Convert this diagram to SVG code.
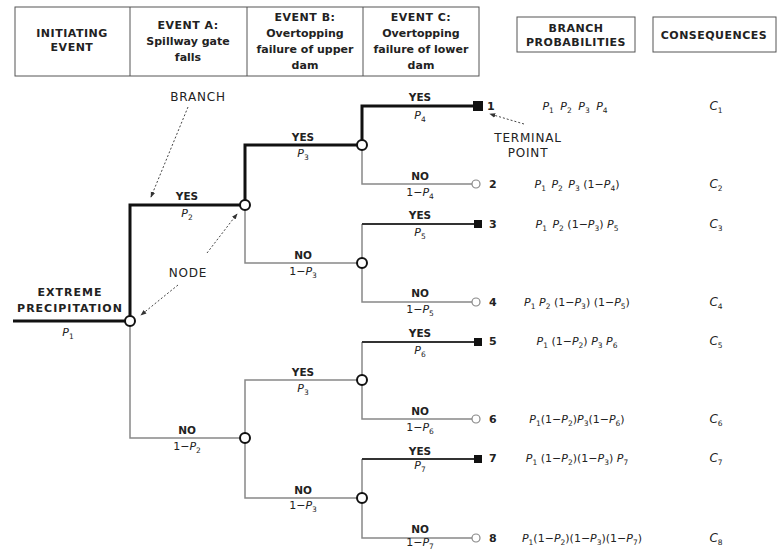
<svg xmlns="http://www.w3.org/2000/svg" width="777" height="560" viewBox="0 0 777 560">
<style>
text{font-family:"DejaVu Sans","Liberation Sans",Arial,sans-serif;fill:#222}
.h{font-size:11px;font-weight:bold;text-anchor:middle}
.u{letter-spacing:0.5px}
.l{font-size:10.5px;font-weight:bold;text-anchor:middle}
.p{font-size:11px;text-anchor:middle}
.c{font-size:12px;text-anchor:middle}
.a{font-size:12px;text-anchor:middle;letter-spacing:0.8px}
.n{font-size:11px;font-weight:bold}
.i{font-style:italic}
.s{font-size:7.5px}
.box{fill:#fff;stroke:#555;stroke-width:1}
.thick{stroke:#111;stroke-width:3;fill:none}
.med{stroke:#333;stroke-width:2;fill:none}
.thin{stroke:#888;stroke-width:1.5;fill:none}
.dot{stroke:#444;stroke-width:1;stroke-dasharray:2 2;fill:none;marker-end:url(#ah)}
.node{fill:#fff;stroke:#111;stroke-width:2}
.term{fill:#111}
.open{fill:#fff;stroke:#888;stroke-width:1.2}
</style>
<defs>
<marker id="ah" viewBox="0 0 8 8" refX="7" refY="4" markerWidth="6" markerHeight="6" orient="auto">
<path d="M0,1 L8,4 L0,7 z" fill="#333"/>
</marker>
</defs>
<rect width="777" height="560" fill="#fff"/>

<g id="header">
<rect class="box" x="15" y="7" width="464" height="69"/>
<line x1="130" y1="7" x2="130" y2="76" stroke="#555"/>
<line x1="247" y1="7" x2="247" y2="76" stroke="#555"/>
<line x1="363" y1="7" x2="363" y2="76" stroke="#555"/>
<text class="h u" x="72" y="37">INITIATING</text>
<text class="h u" x="72" y="51">EVENT</text>
<text class="h u" x="188" y="29">EVENT A:</text>
<text class="h" x="188" y="45">Spillway gate</text>
<text class="h" x="188" y="61">falls</text>
<text class="h u" x="305" y="21">EVENT B:</text>
<text class="h" x="305" y="37">Overtopping</text>
<text class="h" x="305" y="53">failure of upper</text>
<text class="h" x="305" y="69">dam</text>
<text class="h u" x="421" y="21">EVENT C:</text>
<text class="h" x="421" y="37">Overtopping</text>
<text class="h" x="421" y="53">failure of lower</text>
<text class="h" x="421" y="69">dam</text>
<rect class="box" x="517" y="17" width="118" height="35"/>
<text class="h u" x="576" y="32">BRANCH</text>
<text class="h u" x="576" y="46">PROBABILITIES</text>
<rect class="box" x="653" y="17" width="123" height="35"/>
<text class="h u" x="714" y="39">CONSEQUENCES</text>
</g>

<g id="connectors">
<path class="thick" d="M13,321 H130 V205 H245 V145 H362 V106 H478"/>
<path class="thin" d="M130,321 V438 H245"/>
<path class="thin" d="M245,205 V263 H362"/>
<path class="thin" d="M245,438 V380 H362"/>
<path class="thin" d="M245,438 V498 H362"/>
<path class="thin" d="M362,145 V184 H472"/>
<path class="thin" d="M362,263 V224"/>
<path class="med" d="M362,224 H478"/>
<path class="thin" d="M362,263 V302 H472"/>
<path class="thin" d="M362,380 V342"/>
<path class="med" d="M362,342 H478"/>
<path class="thin" d="M362,380 V419 H472"/>
<path class="thin" d="M362,498 V459"/>
<path class="med" d="M362,459 H478"/>
<path class="thin" d="M362,498 V538 H472"/>
<path class="dot" d="M188,107 L151,197"/>
<path class="dot" d="M207,253 L237,214"/>
<path class="dot" d="M178,285 L141,315"/>
<path class="dot" d="M524,124 L490,114"/>
</g>

<g id="annotations">
<text class="a" x="198" y="101">BRANCH</text>
<text class="a" x="188" y="277">NODE</text>
<text class="a" x="528" y="142">TERMINAL</text>
<text class="a" x="528" y="157">POINT</text>
</g>

<g id="node-initiating">
<text class="h" x="70" y="296" style="letter-spacing:1px">EXTREME</text>
<text class="h" x="70" y="312" style="letter-spacing:1px">PRECIPITATION</text>
<text class="p" x="68" y="336"><tspan class="i">P</tspan><tspan class="s" dy="3">1</tspan></text>
<circle class="node" cx="130" cy="321" r="5"/>
</g>

<g id="node-a">
<text class="l" x="187" y="200">YES</text>
<text class="p" x="187" y="217"><tspan class="i">P</tspan><tspan class="s" dy="3">2</tspan></text>
<text class="l" x="187" y="434">NO</text>
<text class="p" x="187" y="450">1−<tspan class="i">P</tspan><tspan class="s" dy="3">2</tspan></text>
</g>

<g id="node-b1">
<circle class="node" cx="245" cy="205" r="5"/>
<text class="l" x="303" y="141">YES</text>
<text class="p" x="303" y="157"><tspan class="i">P</tspan><tspan class="s" dy="3">3</tspan></text>
<text class="l" x="303" y="259">NO</text>
<text class="p" x="303" y="275">1−<tspan class="i">P</tspan><tspan class="s" dy="3">3</tspan></text>
</g>

<g id="node-b2">
<circle class="node" cx="245" cy="438" r="5"/>
<text class="l" x="303" y="376">YES</text>
<text class="p" x="303" y="392"><tspan class="i">P</tspan><tspan class="s" dy="3">3</tspan></text>
<text class="l" x="303" y="494">NO</text>
<text class="p" x="303" y="509">1−<tspan class="i">P</tspan><tspan class="s" dy="3">3</tspan></text>
</g>

<g id="node-c1">
<circle class="node" cx="362" cy="145" r="5"/>
<text class="l" x="420" y="101">YES</text>
<text class="p" x="420" y="119"><tspan class="i">P</tspan><tspan class="s" dy="3">4</tspan></text>
<text class="l" x="420" y="180">NO</text>
<text class="p" x="420" y="196">1−<tspan class="i">P</tspan><tspan class="s" dy="3">4</tspan></text>
</g>
<g id="node-c2">
<circle class="node" cx="362" cy="263" r="5"/>
<text class="l" x="420" y="219">YES</text>
<text class="p" x="420" y="236"><tspan class="i">P</tspan><tspan class="s" dy="3">5</tspan></text>
<text class="l" x="420" y="297">NO</text>
<text class="p" x="420" y="313">1−<tspan class="i">P</tspan><tspan class="s" dy="3">5</tspan></text>
</g>
<g id="node-c3">
<circle class="node" cx="362" cy="380" r="5"/>
<text class="l" x="420" y="337">YES</text>
<text class="p" x="420" y="354"><tspan class="i">P</tspan><tspan class="s" dy="3">6</tspan></text>
<text class="l" x="420" y="415">NO</text>
<text class="p" x="420" y="431">1−<tspan class="i">P</tspan><tspan class="s" dy="3">6</tspan></text>
</g>
<g id="node-c4">
<circle class="node" cx="362" cy="498" r="5"/>
<text class="l" x="420" y="455">YES</text>
<text class="p" x="420" y="469"><tspan class="i">P</tspan><tspan class="s" dy="3">7</tspan></text>
<text class="l" x="420" y="533">NO</text>
<text class="p" x="420" y="546">1−<tspan class="i">P</tspan><tspan class="s" dy="3">7</tspan></text>
</g>

<g id="terminal-1">
<rect class="term" x="473" y="101" width="10" height="10"/>
<text class="n" x="487" y="110">1</text>
<text class="p" x="575" y="110"><tspan class="i">P</tspan><tspan class="s" dy="3">1</tspan><tspan dy="-3" dx="3"> </tspan><tspan class="i">P</tspan><tspan class="s" dy="3">2</tspan><tspan dy="-3" dx="3"> </tspan><tspan class="i">P</tspan><tspan class="s" dy="3">3</tspan><tspan dy="-3" dx="3"> </tspan><tspan class="i">P</tspan><tspan class="s" dy="3">4</tspan></text>
<text class="c" x="716" y="110"><tspan class="i">C</tspan><tspan class="s" dy="3">1</tspan></text>
</g>
<g id="terminal-2">
<circle class="open" cx="476" cy="184" r="4"/>
<text class="n" x="489" y="188">2</text>
<text class="p" x="577" y="188"><tspan class="i">P</tspan><tspan class="s" dy="3">1</tspan><tspan dy="-3" dx="2"> </tspan><tspan class="i">P</tspan><tspan class="s" dy="3">2</tspan><tspan dy="-3" dx="2"> </tspan><tspan class="i">P</tspan><tspan class="s" dy="3">3</tspan><tspan dy="-3"> (1−</tspan><tspan class="i">P</tspan><tspan class="s" dy="3">4</tspan><tspan dy="-3">)</tspan></text>
<text class="c" x="716" y="188"><tspan class="i">C</tspan><tspan class="s" dy="3">2</tspan></text>
</g>
<g id="terminal-3">
<rect class="term" x="474" y="220" width="8" height="8"/>
<text class="n" x="489" y="228">3</text>
<text class="p" x="577" y="228"><tspan class="i">P</tspan><tspan class="s" dy="3">1</tspan><tspan dy="-3" dx="2"> </tspan><tspan class="i">P</tspan><tspan class="s" dy="3">2</tspan><tspan dy="-3"> (1−</tspan><tspan class="i">P</tspan><tspan class="s" dy="3">3</tspan><tspan dy="-3">) </tspan><tspan class="i">P</tspan><tspan class="s" dy="3">5</tspan></text>
<text class="c" x="716" y="228"><tspan class="i">C</tspan><tspan class="s" dy="3">3</tspan></text>
</g>
<g id="terminal-4">
<circle class="open" cx="476" cy="302" r="4"/>
<text class="n" x="489" y="306">4</text>
<text class="p" x="577" y="306"><tspan class="i">P</tspan><tspan class="s" dy="3">1</tspan><tspan dy="-3"> </tspan><tspan class="i">P</tspan><tspan class="s" dy="3">2</tspan><tspan dy="-3"> (1−</tspan><tspan class="i">P</tspan><tspan class="s" dy="3">3</tspan><tspan dy="-3">) (1−</tspan><tspan class="i">P</tspan><tspan class="s" dy="3">5</tspan><tspan dy="-3">)</tspan></text>
<text class="c" x="716" y="306"><tspan class="i">C</tspan><tspan class="s" dy="3">4</tspan></text>
</g>
<g id="terminal-5">
<rect class="term" x="474" y="338" width="8" height="8"/>
<text class="n" x="489" y="345">5</text>
<text class="p" x="577" y="345"><tspan class="i">P</tspan><tspan class="s" dy="3">1</tspan><tspan dy="-3"> (1−</tspan><tspan class="i">P</tspan><tspan class="s" dy="3">2</tspan><tspan dy="-3">) </tspan><tspan class="i">P</tspan><tspan class="s" dy="3">3</tspan><tspan dy="-3"> </tspan><tspan class="i">P</tspan><tspan class="s" dy="3">6</tspan></text>
<text class="c" x="716" y="345"><tspan class="i">C</tspan><tspan class="s" dy="3">5</tspan></text>
</g>
<g id="terminal-6">
<circle class="open" cx="476" cy="419" r="4"/>
<text class="n" x="489" y="423">6</text>
<text class="p" x="577" y="423"><tspan class="i">P</tspan><tspan class="s" dy="3">1</tspan><tspan dy="-3">(1−</tspan><tspan class="i">P</tspan><tspan class="s" dy="3">2</tspan><tspan dy="-3">)</tspan><tspan class="i">P</tspan><tspan class="s" dy="3">3</tspan><tspan dy="-3">(1−</tspan><tspan class="i">P</tspan><tspan class="s" dy="3">6</tspan><tspan dy="-3">)</tspan></text>
<text class="c" x="716" y="423"><tspan class="i">C</tspan><tspan class="s" dy="3">6</tspan></text>
</g>
<g id="terminal-7">
<rect class="term" x="474" y="455" width="8" height="8"/>
<text class="n" x="489" y="462">7</text>
<text class="p" x="577" y="462"><tspan class="i">P</tspan><tspan class="s" dy="3">1</tspan><tspan dy="-3"> (1−</tspan><tspan class="i">P</tspan><tspan class="s" dy="3">2</tspan><tspan dy="-3">)(1−</tspan><tspan class="i">P</tspan><tspan class="s" dy="3">3</tspan><tspan dy="-3">) </tspan><tspan class="i">P</tspan><tspan class="s" dy="3">7</tspan></text>
<text class="c" x="716" y="462"><tspan class="i">C</tspan><tspan class="s" dy="3">7</tspan></text>
</g>
<g id="terminal-8">
<circle class="open" cx="476" cy="538" r="4"/>
<text class="n" x="489" y="542">8</text>
<text class="p" x="582" y="542"><tspan class="i">P</tspan><tspan class="s" dy="3">1</tspan><tspan dy="-3">(1−</tspan><tspan class="i">P</tspan><tspan class="s" dy="3">2</tspan><tspan dy="-3">)(1−</tspan><tspan class="i">P</tspan><tspan class="s" dy="3">3</tspan><tspan dy="-3">)(1−</tspan><tspan class="i">P</tspan><tspan class="s" dy="3">7</tspan><tspan dy="-3">)</tspan></text>
<text class="c" x="716" y="542"><tspan class="i">C</tspan><tspan class="s" dy="3">8</tspan></text>
</g>
</svg>
